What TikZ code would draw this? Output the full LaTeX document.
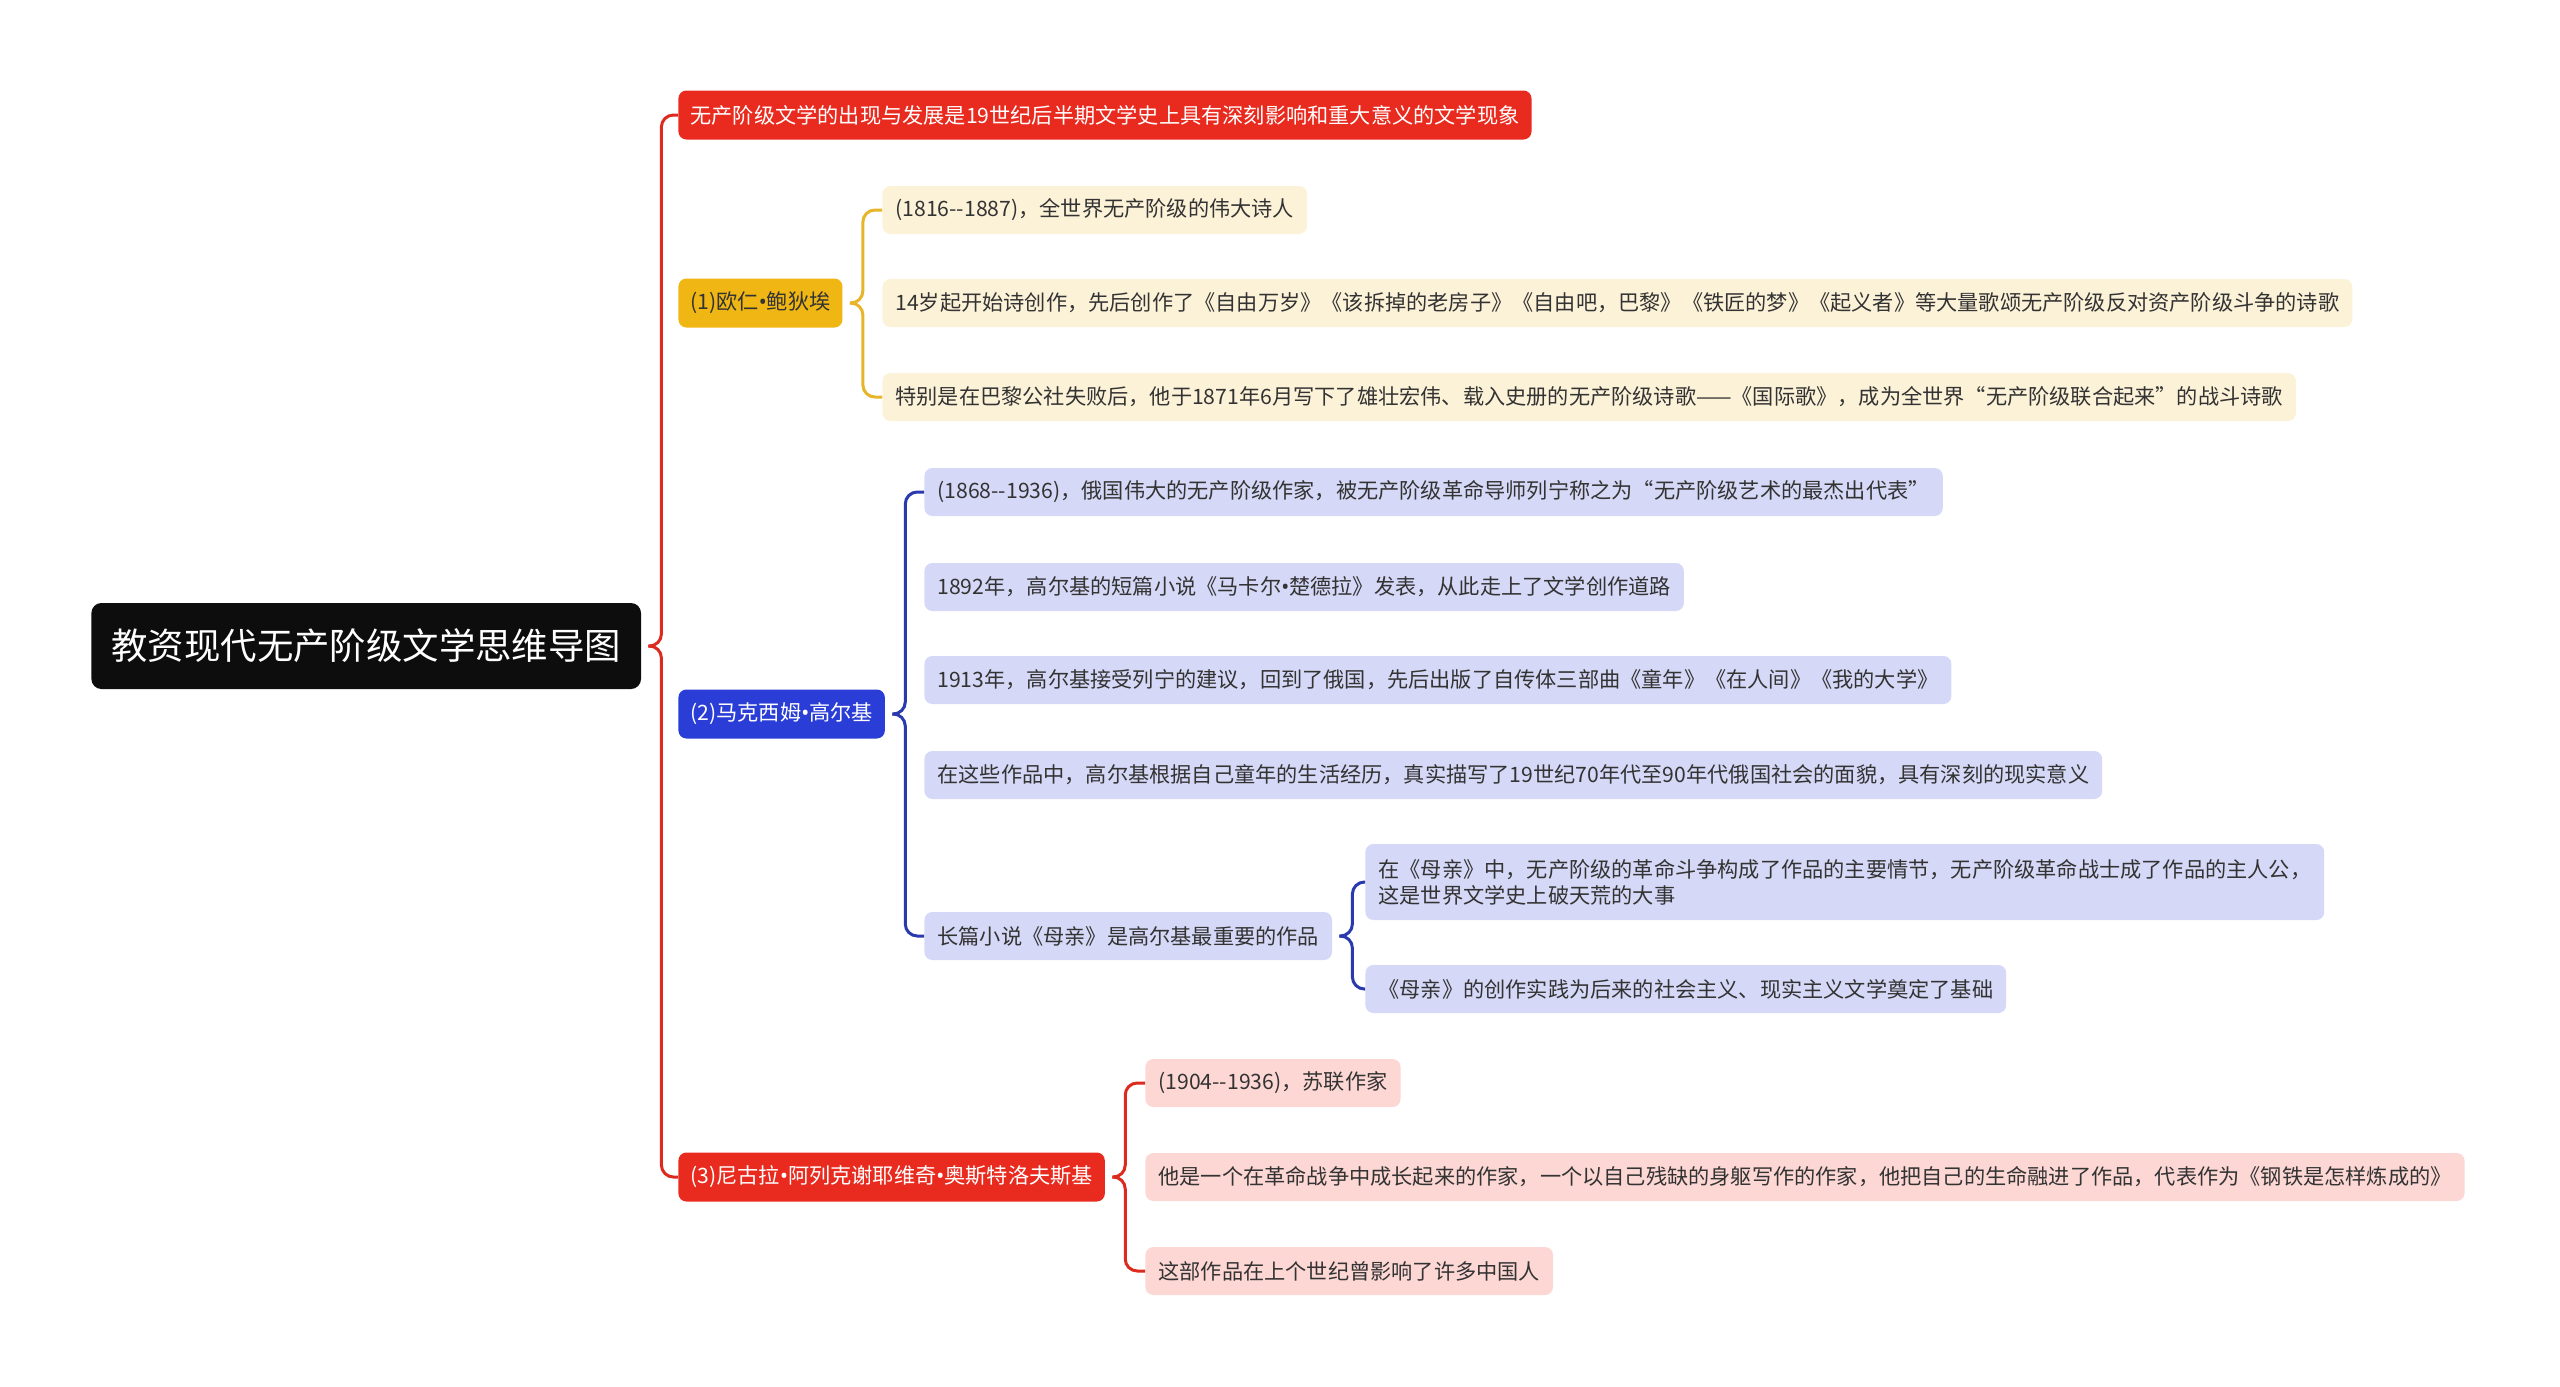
\documentclass[tikz,border=0pt]{standalone}
\usepackage{fontspec}
\setmainfont{Noto Sans CJK SC}[Ligatures=TeXOff]
\newfontfamily\latinfont{Noto Sans}
\usepackage{tikz}
\usetikzlibrary{positioning, calc}
\definecolor{mmblack}{HTML}{0D0D0D}
\definecolor{mmred}{HTML}{E92A1E}
\definecolor{mmredline}{HTML}{DC2A1F}
\definecolor{mmyellow}{HTML}{EFB614}
\definecolor{mmyellowline}{HTML}{E8B42A}
\definecolor{mmblue}{HTML}{2A3DD6}
\definecolor{mmblueline}{HTML}{2A3AAE}
\definecolor{paleyellow}{HTML}{FCF2D8}
\definecolor{paleblue}{HTML}{D5D8F6}
\definecolor{palered}{HTML}{FCD7D4}
\definecolor{mmtext}{HTML}{333333}
\tikzset{
  rootbox/.style={fill=mmblack, text=white, rounded corners=5pt, anchor=west,
                  minimum height=43pt, inner xsep=10pt,
                  font=\fontsize{18.2}{22}\selectfont},
  topic/.style={rounded corners=4pt, anchor=west, text=white,
                minimum height=24.5pt, inner xsep=6pt,
                font=\fontsize{10.6}{13}\selectfont},
  leaf/.style={rounded corners=4pt, anchor=west, text=mmtext, align=left,
               minimum height=24pt, inner xsep=6.5pt,
               font=\fontsize{10.6}{13}\selectfont},
  link/.style={line width=1.5pt, rounded corners=6pt}
}
\newcommand\mmlink[3]{\draw[link, #1] ([xshift=3.5pt]#2.east) -- ++(6.5pt,0) |- (#3.west);}
\newcommand\nd{{\latinfont •}}

\begin{document}
\begin{tikzpicture}[x=0.5pt, y=-0.5pt]
  \useasboundingbox (0,0) rectangle (2560,1387);

  \node[rootbox] (root) at (91,646) {教资现代无产阶级文学思维导图};

  \node[topic, fill=mmred] (intro) at (678,115)
    {无产阶级文学的出现与发展是19世纪后半期文学史上具有深刻影响和重大意义的文学现象};
  \node[topic, fill=mmyellow, text=mmtext] (pottier) at (678,303) {(1)欧仁\nd 鲍狄埃};
  \node[topic, fill=mmblue] (gorky) at (678,714) {(2)马克西姆\nd 高尔基};
  \node[topic, fill=mmred] (ostr) at (678,1177) {(3)尼古拉\nd 阿列克谢耶维奇\nd 奥斯特洛夫斯基};

  % (1) Pottier
  \node[leaf, fill=paleyellow] (pot1) at (882,210) {(1816--1887)，全世界无产阶级的伟大诗人};
  \node[leaf, fill=paleyellow] (pot2) at (882,303)
    {14岁起开始诗创作，先后创作了《自由万岁》《该拆掉的老房子》《自由吧，巴黎》《铁匠的梦》《起义者》等大量歌颂无产阶级反对资产阶级斗争的诗歌};
  \node[leaf, fill=paleyellow] (pot3) at (882,397)
    {特别是在巴黎公社失败后，他于1871年6月写下了雄壮宏伟、载入史册的无产阶级诗歌——《国际歌》，成为全世界“无产阶级联合起来”的战斗诗歌};

  % (2) Gorky
  \node[leaf, fill=paleblue] (gor1) at (924,492)
    {(1868--1936)，俄国伟大的无产阶级作家，被无产阶级革命导师列宁称之为“无产阶级艺术的最杰出代表”};
  \node[leaf, fill=paleblue] (gor2) at (924,587)
    {1892年，高尔基的短篇小说《马卡尔\nd 楚德拉》发表，从此走上了文学创作道路};
  \node[leaf, fill=paleblue] (gor3) at (924,680)
    {1913年，高尔基接受列宁的建议，回到了俄国，先后出版了自传体三部曲《童年》《在人间》《我的大学》};
  \node[leaf, fill=paleblue] (gor4) at (924,775)
    {在这些作品中，高尔基根据自己童年的生活经历，真实描写了19世纪70年代至90年代俄国社会的面貌，具有深刻的现实意义};
  \node[leaf, fill=paleblue] (gor5) at (924,936) {长篇小说《母亲》是高尔基最重要的作品};
  \node[leaf, fill=paleblue, minimum height=38pt] (mother1) at (1365,882)
    {在《母亲》中，无产阶级的革命斗争构成了作品的主要情节，无产阶级革命战士成了作品的主人公，\\这是世界文学史上破天荒的大事};
  \node[leaf, fill=paleblue] (mother2) at (1365,989)
    {《母亲》的创作实践为后来的社会主义、现实主义文学奠定了基础};

  % (3) Ostrovsky
  \node[leaf, fill=palered] (ost1) at (1145,1083) {(1904--1936)，苏联作家};
  \node[leaf, fill=palered] (ost2) at (1145,1177)
    {他是一个在革命战争中成长起来的作家，一个以自己残缺的身躯写作的作家，他把自己的生命融进了作品，代表作为《钢铁是怎样炼成的》};
  \node[leaf, fill=palered] (ost3) at (1145,1271) {这部作品在上个世纪曾影响了许多中国人};

  % links
  \mmlink{mmredline}{root}{intro}
  \mmlink{mmredline}{root}{ostr}
  \mmlink{mmyellowline}{pottier}{pot1}
  \mmlink{mmyellowline}{pottier}{pot3}
  \mmlink{mmblueline}{gorky}{gor1}
  \mmlink{mmblueline}{gorky}{gor5}
  \mmlink{mmblueline}{gor5}{mother1}
  \mmlink{mmblueline}{gor5}{mother2}
  \mmlink{mmredline}{ostr}{ost1}
  \mmlink{mmredline}{ostr}{ost3}
\end{tikzpicture}
\end{document}
